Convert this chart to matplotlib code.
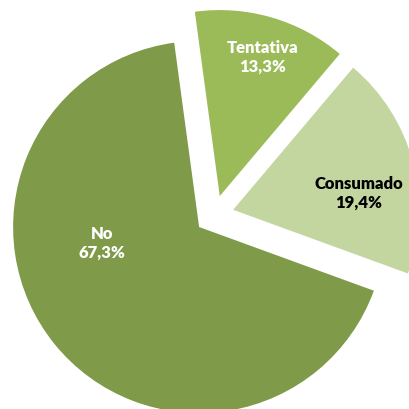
import matplotlib.pyplot as plt

# data
labels = ['Tentativa', 'Consumado', 'No']
values = [13.3, 19.4, 67.3]
colors = ['#9BBB59', '#C4D6A0', '#7F9A48']
text_colors = ['white', 'black', 'white']

# label anchor positions in pixels (x, y from top)
label_pos = [(263, 57.5), (359, 193), (102, 243)]

W = H = 410
fig = plt.figure(figsize=(4.1, 4.1), dpi=100)
ax = fig.add_axes([0, 0, 1, 1])

cx, cy = 214.3, H - 215.8
r = 186
ax.pie(values, colors=colors, startangle=97.7, counterclock=False,
       center=(cx, cy), radius=r, explode=[19.5] * len(values),
       wedgeprops=dict(linewidth=0))

for lab, v, (px, py), tc in zip(labels, values, label_pos, text_colors):
    txt = f'{lab}\n{v:.1f}%'.replace('.', ',')
    ax.text(px, H - py, txt, ha='center', va='center', color=tc,
            fontsize=12, fontweight='heavy', family='Lato', linespacing=1.2)

ax.set_xlim(0, W)
ax.set_ylim(0, H)
ax.set_aspect('equal')
ax.axis('off')

fig.savefig('out.png', dpi=100, facecolor='white')
